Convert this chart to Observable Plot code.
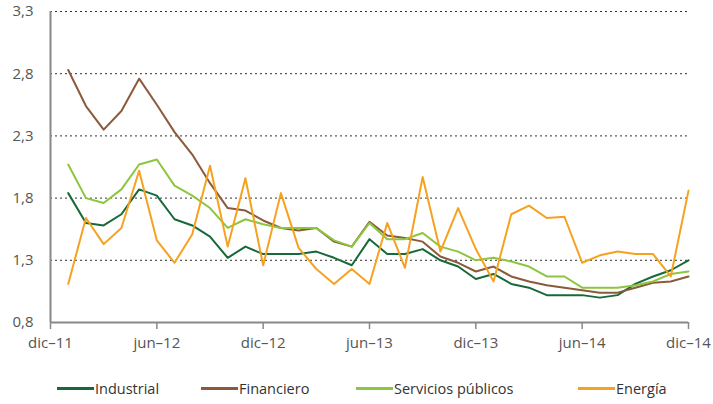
<!DOCTYPE html>
<html>
<head>
<meta charset="utf-8">
<script src="https://cdn.jsdelivr.net/npm/d3@7"></script>
<script src="https://cdn.jsdelivr.net/npm/@observablehq/plot@0.6"></script>
<style>
  html, body { margin: 0; padding: 0; background: #fff; }
  #wrap { position: relative; width: 713px; height: 404px; font-family: "Open Sans", sans-serif; }
  #legend { position: absolute; left: 0; top: 376px; width: 713px; height: 24px; }
  .item { position: absolute; top: 0; display: flex; align-items: center; height: 24px; font-size: 14.5px; color: #333; }
  .sw { width: 37px; height: 3px; margin-right: 1px; }
</style>
</head>
<body>
<div id="wrap">
  <div id="chart"></div>
  <div id="legend"></div>
</div>
<script>
// Months: index 1 = ene-12 ... 36 = dic-14 (0 = dic-11)
const monthIndex = d3.range(1, 37);
const industrial = [1.84,1.60,1.58,1.67,1.87,1.82,1.63,1.58,1.49,1.32,1.41,1.35,1.35,1.35,1.37,1.32,1.26,1.47,1.35,1.35,1.39,1.30,1.25,1.15,1.19,1.11,1.08,1.02,1.02,1.02,1.00,1.02,1.11,1.17,1.22,1.30];
const financiero = [2.83,2.54,2.35,2.50,2.76,2.55,2.33,2.15,1.92,1.72,1.70,1.62,1.56,1.54,1.56,1.45,1.41,1.61,1.50,1.48,1.45,1.33,1.28,1.21,1.25,1.17,1.13,1.10,1.08,1.06,1.04,1.04,1.08,1.12,1.13,1.17];
const servicios = [2.07,1.80,1.76,1.87,2.07,2.11,1.90,1.82,1.72,1.56,1.63,1.59,1.56,1.56,1.56,1.46,1.41,1.60,1.47,1.47,1.52,1.41,1.37,1.30,1.32,1.29,1.25,1.17,1.17,1.08,1.08,1.08,1.10,1.13,1.19,1.21];
const energia = [1.11,1.64,1.43,1.56,2.02,1.46,1.28,1.51,2.06,1.41,1.96,1.26,1.84,1.40,1.23,1.11,1.23,1.11,1.60,1.24,1.97,1.37,1.72,1.39,1.13,1.67,1.74,1.64,1.65,1.28,1.34,1.37,1.35,1.35,1.17,1.86];

const seriesNames = ["Industrial", "Financiero", "Servicios públicos", "Energía"];
const seriesColors = ["#17693a", "#8a5a3a", "#8cc63f", "#f5a220"];
const seriesValues = [industrial, financiero, servicios, energia];

const xTicks = [0, 6, 12, 18, 24, 30, 36];
const xTickLabels = ["dic–11", "jun–12", "dic–12", "jun–13", "dic–13", "jun–14", "dic–14"];
const yTicks = [0.8, 1.3, 1.8, 2.3, 2.8, 3.3];

const rows = [];
seriesNames.forEach((name, s) => {
  seriesValues[s].forEach((v, i) => rows.push({serie: name, m: monthIndex[i], v}));
});

const chart = Plot.plot({
  width: 713,
  height: 362,
  marginLeft: 50,
  marginRight: 25,
  marginTop: 11,
  marginBottom: 40,
  style: { fontFamily: "Open Sans, sans-serif", fontSize: "14px", color: "#555", background: "#fff" },
  x: { type: "linear", domain: [0, 36] },
  y: { domain: [0.8, 3.3] },
  color: { domain: seriesNames, range: seriesColors },
  marks: [
    Plot.gridY(yTicks.filter(t => t > 0.8), { stroke: "#333", strokeOpacity: 1, strokeDasharray: "2,3", strokeWidth: 1 }),
    Plot.axisY({ ticks: yTicks, tickSize: 0, tickPadding: 17, tickFormat: d => d3.format(".1f")(d).replace(".", ","), label: null, fontSize: 15, fill: "#555" }),
    Plot.axisX({ ticks: xTicks, tickSize: 7, tickPadding: 8, tickFormat: (d) => xTickLabels[xTicks.indexOf(d)], label: null, fontSize: 15, fill: "#555", stroke: "#888", strokeWidth: 1.5 }),
    Plot.ruleX([0], { stroke: "#888", strokeWidth: 2 }),
    Plot.ruleY([0.8], { stroke: "#888", strokeWidth: 2 }),
    Plot.line(rows, { x: "m", y: "v", z: "serie", stroke: "serie", strokeWidth: 2 })
  ]
});
document.getElementById("chart").appendChild(chart);

const legendLeft = [57, 201, 356, 578];
const legend = document.getElementById("legend");
seriesNames.forEach((name, i) => {
  const it = document.createElement("div");
  it.className = "item";
  it.style.left = legendLeft[i] + "px";
  it.innerHTML = `<span class="sw" style="background:${seriesColors[i]}"></span><span>${name}</span>`;
  legend.appendChild(it);
});
</script>
</body>
</html>
